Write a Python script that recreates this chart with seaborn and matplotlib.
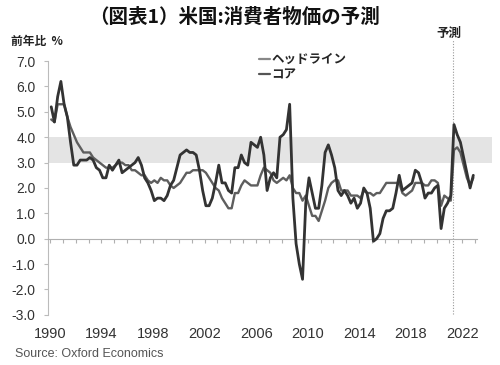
import numpy as np
import pandas as pd
import seaborn as sns
import matplotlib.pyplot as plt

# quarterly CPI, % y/y, 1990Q1 - 2022Q4 (from 2021Q2 forecast)
headline = [
    5.2, 4.6, 5.6, 6.2,  5.3, 4.8, 3.8, 2.9,  2.9, 3.1, 3.1, 3.1,  3.2, 3.1, 2.8, 2.7,
    2.4, 2.4, 2.9, 2.7,  2.9, 3.1, 2.6, 2.7,  2.8, 2.9, 3.0, 3.2,  2.9, 2.4, 2.2, 1.9,
    1.5, 1.6, 1.6, 1.5,  1.7, 2.1, 2.3, 2.8,  3.3, 3.4, 3.5, 3.4,  3.4, 3.3, 2.7, 1.9,
    1.3, 1.3, 1.6, 2.2,  2.9, 2.2, 2.2, 1.9,  1.8, 2.8, 2.8, 3.3,  3.0, 2.9, 3.8, 3.7,
    3.6, 4.0, 3.3, 1.9,  2.4, 2.6, 2.4, 4.0,  4.1, 4.3, 5.3, 1.6,  -0.2, -1.0, -1.6, 1.4,
    2.4, 1.8, 1.2, 1.2,  2.1, 3.4, 3.7, 3.3,  2.8, 1.9, 1.7, 1.9,  1.7, 1.4, 1.6, 1.2,
    1.4, 2.0, 1.8, 1.2,  -0.1, 0.0, 0.2, 0.8,  1.1, 1.1, 1.2, 1.8,  2.5, 1.9, 2.0, 2.1,
    2.2, 2.7, 2.6, 2.2,  1.6, 1.8, 1.8, 2.0,  2.1, 0.4, 1.2, 1.4,  1.7, 4.5, 4.1, 3.8,
    3.2, 2.6, 2.0, 2.5,
]
core = [
    4.7, 4.6, 5.3, 5.3,  5.3, 4.8, 4.4, 4.1,  3.8, 3.6, 3.4, 3.4,  3.4, 3.2, 3.1, 3.0,
    2.9, 2.8, 2.8, 2.8,  2.9, 3.0, 3.0, 2.9,  2.9, 2.7, 2.7, 2.6,  2.5, 2.5, 2.3, 2.2,
    2.3, 2.2, 2.4, 2.3,  2.3, 2.1, 2.0, 2.1,  2.2, 2.4, 2.6, 2.6,  2.7, 2.7, 2.7, 2.7,
    2.6, 2.4, 2.2, 2.0,  1.9, 1.6, 1.4, 1.2,  1.2, 1.8, 1.8, 2.1,  2.3, 2.2, 2.1, 2.1,
    2.1, 2.5, 2.8, 2.7,  2.6, 2.3, 2.2, 2.3,  2.4, 2.3, 2.5, 2.0,  1.8, 1.8, 1.5, 1.7,
    1.3, 0.9, 0.9, 0.7,  1.1, 1.5, 2.0, 2.2,  2.3, 2.3, 1.9, 1.9,  1.9, 1.7, 1.7, 1.7,
    1.6, 1.9, 1.8, 1.8,  1.7, 1.8, 1.8, 2.0,  2.2, 2.2, 2.2, 2.2,  2.2, 1.8, 1.7, 1.8,
    1.9, 2.2, 2.2, 2.2,  2.1, 2.1, 2.3, 2.3,  2.2, 1.3, 1.7, 1.6,  1.5, 3.5, 3.6, 3.4,
    2.9, 2.4, 2.1, 2.4,
]
year_labels = list(range(1990, 2023, 4))
y_ticks = [7.0, 6.0, 5.0, 4.0, 3.0, 2.0, 1.0, 0.0, -1.0, -2.0, -3.0]
forecast_start = 2021.3

df = pd.DataFrame({
    "t": 1990.1 + np.arange(len(headline)) / 4,
    "headline": headline,
    "core": core,
})

sns.set_style("white")
plt.rcParams["font.family"] = ["Liberation Sans", "Noto Sans CJK JP"]
jp = ["Noto Sans CJK JP", "DejaVu Sans"]

fig = plt.figure(figsize=(5.0, 3.65), dpi=100)
ax = fig.add_axes([0.096, 0.134, 0.888, 0.702])

ax.axhspan(3.0, 4.0, color="#e4e4e4", lw=0, zorder=0)

sns.lineplot(data=df, x="t", y="headline", ax=ax, color="#333333", lw=2.0,
             label="ヘッドライン", zorder=3)
sns.lineplot(data=df, x="t", y="core", ax=ax, color="#5e5e5e", lw=1.7,
             label="コア", zorder=2)

ax.set_xlim(1989.85, 2024.3)
ax.set_ylim(-3.05, 7.05)
ax.set_xlabel("")
ax.set_ylabel("")

# y axis
ax.set_yticks(y_ticks)
ax.set_yticklabels([f"{v:.1f}" for v in y_ticks], fontsize=10, color="#333333")
ax.spines["left"].set_color("#bbbbbb")
ax.spines["left"].set_bounds(-3.0, 7.0)
ax.tick_params(axis="y", left=True, direction="out", length=3, color="#bbbbbb", pad=6)
ax.spines["top"].set_visible(False)
ax.spines["right"].set_visible(False)

# zero line with yearly ticks, labels on the bottom
ax.spines["bottom"].set_position(("data", 0))
ax.spines["bottom"].set_color("#b0b0b0")
ax.spines["bottom"].set_bounds(1989.85, 2023.1)
ax.set_xticks(range(1990, 2024))
ax.set_xticklabels([])
ax.tick_params(axis="x", bottom=True, direction="out", length=3, width=0.8,
               color="#b0b0b0")

sec = ax.secondary_xaxis("bottom")
sec.set_xticks(year_labels)
sec.set_xticklabels([str(y) for y in year_labels], fontsize=10.5, color="#333333")
sec.tick_params(bottom=False, length=0, pad=8)
sec.spines["bottom"].set_visible(False)

# forecast marker
ax.axvline(forecast_start, ymin=0.01, ymax=1.078, color="#999999", lw=0.8,
           ls=(0, (1, 1.5)), clip_on=False, zorder=1)
fig.text(0.897, 0.908, "予測", family=jp, fontsize=9, fontweight="bold",
         ha="center", va="center", color="#222222")

leg = ax.legend(loc="upper left", bbox_to_anchor=(0.508, 0.868),
                bbox_transform=fig.transFigure, frameon=False, handlelength=0.9,
                handletextpad=0.1, labelspacing=0.15, borderaxespad=0,
                prop={"family": jp, "size": 9, "weight": "bold"})
for h, c in zip(leg.get_lines(), ["#888888", "#555555"]):
    h.set_color(c)
    h.set_linewidth(1.6)

fig.text(0.468, 0.953, "（図表1）米国:消費者物価の予測", family=jp, fontsize=14,
         fontweight="bold", ha="center", va="center", color="#111111")
fig.text(0.022, 0.887, "前年比  %", family=jp, fontsize=8.5, fontweight="bold",
         ha="left", va="center", color="#222222")
fig.text(0.03, 0.03, "Source: Oxford Economics", fontsize=9, color="#555555",
         ha="left", va="center")

fig.savefig("out.png", dpi=100)
